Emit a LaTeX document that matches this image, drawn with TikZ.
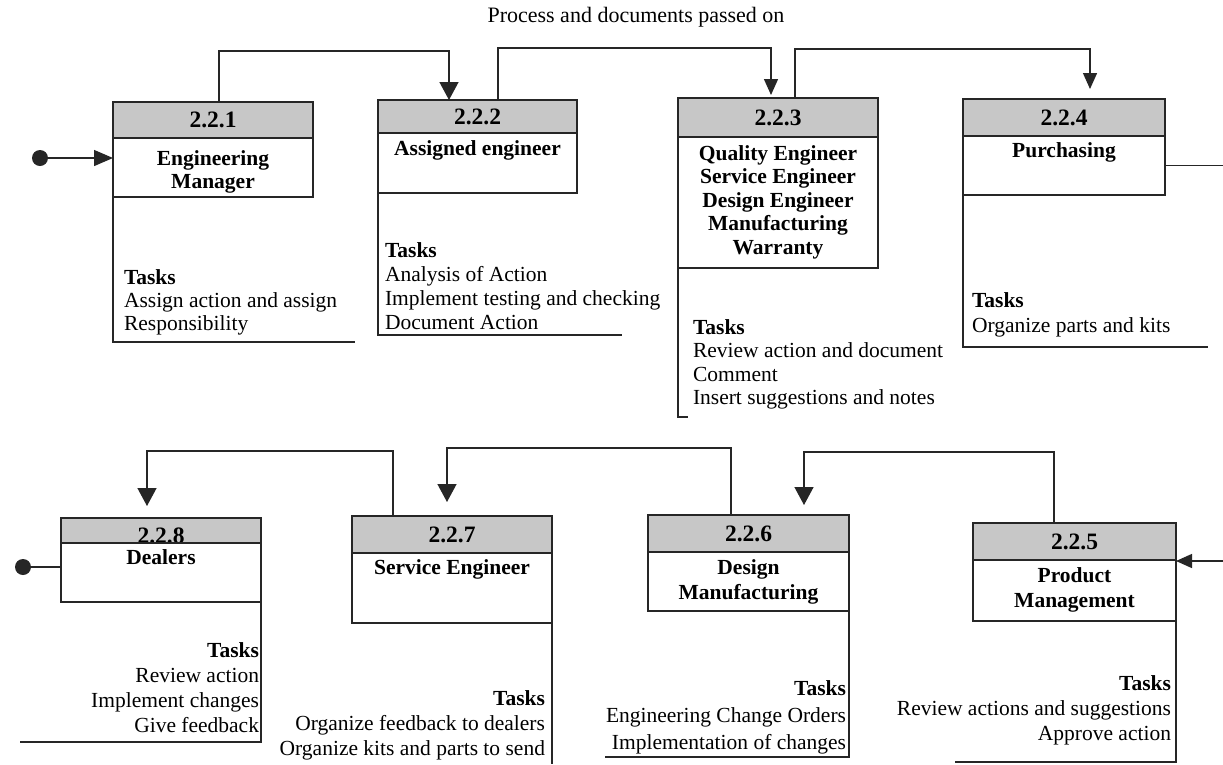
\documentclass[tikz,border=0pt]{standalone}
\usepackage{fontspec}
\setmainfont{Liberation Serif}
\usetikzlibrary{arrows.meta}
\begin{document}
\begin{tikzpicture}[x=1pt,y=-1pt,
  every node/.style={inner sep=0pt, outer sep=0pt},
  txt/.style={font=\fontsize{21.5pt}{24pt}\selectfont},
  bld/.style={font=\fontsize{21.5pt}{24pt}\selectfont\bfseries},
  num/.style={font=\fontsize{23.5pt}{26pt}\selectfont\bfseries},
  hdr/.style={draw=black!85, line width=1.6pt, fill=black!22, anchor=north west, num},
  body/.style={draw=black!85, line width=1.6pt, fill=white, anchor=north west},
  frame/.style={draw=black!85, line width=1.4pt},
  conn/.style={draw=black!85, line width=1.4pt},
  bigtip/.style={-{Triangle[width=19pt,length=18pt]}},
  midtip/.style={-{Triangle[width=16pt,length=19pt]}},
  smalltip/.style={-{Triangle[width=14pt,length=16pt]}},
  dotnode/.style={circle, fill=black!85, minimum size=16pt},
]
\useasboundingbox (0,0) rectangle (1223,764);
\fill[white] (0,0) rectangle (1223,764);

% title
\node[font=\fontsize{22pt}{24pt}\selectfont, anchor=base] (title) at (636,22) {Process and documents passed on};

% ---------- top row ----------
\node[hdr, minimum width=200pt, minimum height=36pt] (h221) at (113,102) {2.2.1};
\node[body, minimum width=200pt, minimum height=59pt] (b221) at (113,138) {};
\node[bld, anchor=base] (n221a) at (213,165) {Engineering};
\node[bld, anchor=base] (n221b) at (213,188) {Manager};
\draw[frame] (b221.south west) |- (355,342);
\node[bld, anchor=base west] (t221a) at (124,284) {Tasks};
\node[txt, anchor=base west] (t221b) at (124,307) {Assign action and assign};
\node[txt, anchor=base west] (t221c) at (124,330) {Responsibility};

\node[hdr, minimum width=199pt, minimum height=33pt] (h222) at (378,100) {2.2.2};
\node[body, minimum width=199pt, minimum height=60pt] (b222) at (378,133) {};
\node[bld, anchor=base] (n222a) at (477.5,155) {Assigned engineer};
\draw[frame] (b222.south west) |- (622,335);
\node[bld, anchor=base west] (t222a) at (385,257) {Tasks};
\node[txt, anchor=base west] (t222b) at (385,281) {Analysis of Action};
\node[txt, anchor=base west] (t222c) at (385,305) {Implement testing and checking};
\node[txt, anchor=base west] (t222d) at (385,329) {Document Action};

\node[hdr, minimum width=200pt, minimum height=39pt] (h223) at (678,98) {2.2.3};
\node[body, minimum width=200pt, minimum height=131pt] (b223) at (678,137) {};
\node[bld, anchor=base] (n223a) at (778,160) {Quality Engineer};
\node[bld, anchor=base] (n223b) at (778,183) {Service Engineer};
\node[bld, anchor=base] (n223c) at (778,207) {Design Engineer};
\node[bld, anchor=base] (n223d) at (778,230) {Manufacturing};
\node[bld, anchor=base] (n223e) at (778,254) {Warranty};
\draw[frame] (b223.south west) |- (688,417);
\node[bld, anchor=base west] (t223a) at (693,334) {Tasks};
\node[txt, anchor=base west] (t223b) at (693,357.5) {Review action and document};
\node[txt, anchor=base west] (t223c) at (693,381) {Comment};
\node[txt, anchor=base west] (t223d) at (693,404.5) {Insert suggestions and notes};

\node[hdr, minimum width=202pt, minimum height=37pt] (h224) at (963,99) {2.2.4};
\node[body, minimum width=202pt, minimum height=59pt] (b224) at (963,136) {};
\node[bld, anchor=base] (n224a) at (1064,157) {Purchasing};
\draw[frame] (b224.south west) |- (1208,347);
\node[bld, anchor=base west] (t224a) at (972,307) {Tasks};
\node[txt, anchor=base west] (t224b) at (972,332) {Organize parts and kits};

% ---------- bottom row ----------
\node[hdr, minimum width=203pt, minimum height=37pt] (h225) at (973,523) {2.2.5};
\node[body, minimum width=203pt, minimum height=61pt] (b225) at (973,560) {};
\node[bld, anchor=base] (n225a) at (1074.5,582) {Product};
\node[bld, anchor=base] (n225b) at (1074.5,607) {Management};
\draw[frame] (b225.south east) |- (955,762);
\node[bld, anchor=base east] (t225a) at (1171,690) {Tasks};
\node[txt, anchor=base east] (t225b) at (1171,715) {Review actions and suggestions};
\node[txt, anchor=base east] (t225c) at (1171,740) {Approve action};

\node[hdr, minimum width=201pt, minimum height=37pt] (h226) at (648,515) {2.2.6};
\node[body, minimum width=201pt, minimum height=59pt] (b226) at (648,552) {};
\node[bld, anchor=base] (n226a) at (748.5,574) {Design};
\node[bld, anchor=base] (n226b) at (748.5,599) {Manufacturing};
\draw[frame] (b226.south east) |- (605,757);
\node[bld, anchor=base east] (t226a) at (846,695) {Tasks};
\node[txt, anchor=base east] (t226b) at (846,722) {Engineering Change Orders};
\node[txt, anchor=base east] (t226c) at (846,749) {Implementation of changes};

\node[hdr, minimum width=200pt, minimum height=37pt] (h227) at (352,516) {2.2.7};
\node[body, minimum width=200pt, minimum height=70pt] (b227) at (352,553) {};
\node[bld, anchor=base] (n227a) at (452,574) {Service Engineer};
\draw[frame] (b227.south east) -- (552,764);
\node[bld, anchor=base east] (t227a) at (545,705) {Tasks};
\node[txt, anchor=base east] (t227b) at (545,730) {Organize feedback to dealers};
\node[txt, anchor=base east] (t227c) at (545,755) {Organize kits and parts to send};

\node[hdr, minimum width=200pt, minimum height=25pt] (h228) at (61,518) {};
\node[num, anchor=base] (num228) at (161,543.5) {2.2.8};
\node[body, minimum width=200pt, minimum height=59pt] (b228) at (61,543) {};
\node[bld, anchor=base] (n228a) at (161,564) {Dealers};
\draw[frame] (b228.south east) |- (20,742);
\node[bld, anchor=base east] (t228a) at (259,657) {Tasks};
\node[txt, anchor=base east] (t228b) at (259,682) {Review action};
\node[txt, anchor=base east] (t228c) at (259,707) {Implement changes};
\node[txt, anchor=base east] (t228d) at (259,732) {Give feedback};

% ---------- connectors ----------
\node[dotnode] (dot1) at (40,158) {};
\draw[conn, midtip] (dot1) -- (dot1 -| b221.west);

\draw[conn, bigtip] ([xshift=6pt]h221.north) -- ++(0,-51) -| ([xshift=-28.5pt]h222.north);
\draw[conn, smalltip, shorten >=3pt] ([xshift=20.5pt]h222.north) -- ++(0,-52) -| ([xshift=-7pt]h223.north);
\draw[conn, smalltip, shorten >=10pt] ([xshift=17pt]h223.north) -- ++(0,-49) -| ([xshift=26pt]h224.north);

\coordinate (out4) at (1223,165.5);
\draw[conn] (b224.east) -- (out4);

\coordinate (in5) at (1223,561);
\draw[conn, smalltip] (in5) -- (in5 -| h225.east);

\draw[conn, bigtip, shorten >=10pt] ([xshift=-20.5pt]h225.north) -- ++(0,-71) -| ([xshift=55.5pt]h226.north);
\draw[conn, bigtip, shorten >=14pt] ([xshift=-17.5pt]h226.north) -- ++(0,-67) -| ([xshift=-5pt]h227.north);
\draw[conn, bigtip, shorten >=12pt] ([xshift=-59pt]h227.north) -- ++(0,-65) -| ([xshift=-14pt]h228.north);

\node[dotnode] (dot2) at (23,567) {};
\draw[conn] (dot2) -- (dot2 -| b228.west);
\end{tikzpicture}
\end{document}
